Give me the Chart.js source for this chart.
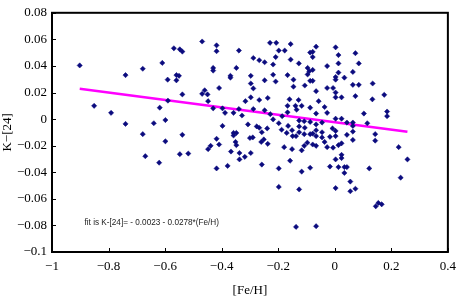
<!DOCTYPE html>
<html>
<head>
<meta charset="utf-8">
<script src="https://cdn.jsdelivr.net/npm/chart.js@4/dist/chart.umd.min.js"></script>
<style>
  html, body { margin: 0; padding: 0; background: #fff; }
  canvas { display: block; }
</style>
</head>
<body>
<canvas id="fehChart" width="463" height="300"></canvas>
<script>
// [Fe/H] of each star (x)
const fehValues = [
  -0.902, -0.740, -0.679, -0.610, -0.591,
  -0.569, -0.548, -0.539, -0.469, -0.418, -0.418, -0.339, -0.288, -0.267, -0.248,
  -0.218, -0.229, -0.207, -0.198, -0.177, -0.156, -0.209, -0.156, -0.127, -0.430,
  -0.430, -0.348, -0.560, -0.551, -0.560, -0.369, -0.369, -0.297, -0.218, -0.167,
  -0.146, -0.248, -0.209, -0.297, -0.288, -0.146, -0.409, -0.460, -0.469, -0.450, -0.539,
  -0.066, -0.087, -0.078, -0.078, 0.003, 0.013, 0.073, 0.085, 0.013, -0.027,
  -0.096, -0.090, -0.078, -0.096, -0.087, -0.078, -0.106, 0.003, 0.003, 0.034,
  0.013, 0.064, 0.064, 0.085, 0.134, -0.066, -0.027, -0.006, 0.003,
  0.003, 0.024, 0.073, 0.175, 0.133, -0.117, -0.087, -0.057, -0.036, -0.027,
  -0.066, 0.103, 0.185, 0.185, -0.126, -0.108, -0.087, -0.045, 0.003, 0.024,
  0.043, 0.064, 0.064, 0.115, -0.066, -0.126, -0.106, -0.066, -0.045, -0.008,
  0.003, 0.064, -0.126, -0.108, -0.087, -0.078, -0.066, -0.045, -0.017, 0.003,
  0.043, 0.143, 0.143, 0.064, 0.024, 0.013, -0.036, -0.097, -0.108, -0.078,
  -0.066, -0.027, -0.006, -0.117, 0.226, 0.257, 0.003, 0.024, 0.024, -0.117,
  -0.087, -0.017, 0.013, 0.034, 0.043, 0.034, 0.122,
  0.233, -0.126, 0.003, 0.055, 0.055, 0.073, 0.154, 0.166, 0.145, -0.137, -0.066,
  -0.198,
  -0.590, -0.448, -0.316, -0.297, -0.267, -0.237, -0.160, -0.128, -0.167, -0.139,
  -0.167, -0.135, -0.248, -0.288, -0.339, -0.430, -0.397, -0.388, -0.358, -0.328,
  -0.228, -0.218, -0.186, -0.198, -0.599, -0.397, -0.307, -0.276, -0.267, -0.239,
  -0.258, -0.188, -0.165, -0.170, -0.151, -0.149, -0.137, -0.358, -0.348, -0.358,
  -0.539, -0.599, -0.418, -0.300, -0.290, -0.260, -0.251, -0.237, -0.351, -0.348,
  -0.439, -0.448, -0.409, -0.367, -0.337, -0.297, -0.318, -0.337, -0.548, -0.518,
  -0.179, -0.151, -0.258, -0.198, -0.158, -0.418, -0.379,
  -0.851, -0.791, -0.740, -0.679, -0.640, -0.619, -0.670, -0.621
];

// K-[24] colour of each star (y)
const kValues = [
  0.0404, 0.0331, 0.0379, 0.0423, 0.0297,
  0.0533, 0.0525, 0.0508, 0.0584, 0.0555, 0.0511, 0.0516, 0.0460, 0.0443, 0.0428,
  0.0411, 0.0574, 0.0574, 0.0516, 0.0516, 0.0565, 0.0467, 0.0448, 0.0419, 0.0385,
  0.0365, 0.0385, 0.0331, 0.0326, 0.0292, 0.0326, 0.0312, 0.0326, 0.0334, 0.0331,
  0.0297, 0.0292, 0.0283, 0.0268, 0.0231, 0.0244, 0.0234, 0.0217, 0.0190, 0.0186, 0.0186,
  0.0545, 0.0501, 0.0506, 0.0467, 0.0540, 0.0482, 0.0496, 0.0419, 0.0419, 0.0399,
  0.0385, 0.0360, 0.0370, 0.0336, 0.0288, 0.0288, 0.0253, 0.0317, 0.0297, 0.0312,
  0.0350, 0.0355, 0.0258, 0.0258, 0.0268, 0.0210, 0.0234, 0.0234, 0.0200,
  0.0164, 0.0164, 0.0173, 0.0183, 0.0149, 0.0100, 0.0086, 0.0135, 0.0091, 0.0047,
  0.0042, 0.0042, 0.0057, 0.0022, -0.0011, -0.0016, -0.0021, -0.0026, 0.0003, 0.0003,
  -0.0026, -0.0026, -0.0051, -0.0031, -0.0040, -0.0055, -0.0065, -0.0084, -0.0099, -0.0070,
  -0.0089, -0.0094, -0.0099, -0.0113, -0.0113, -0.0109, -0.0128, -0.0138, -0.0133, -0.0128,
  -0.0118, -0.0113, -0.0162, -0.0157, -0.0182, -0.0196, -0.0172, -0.0177, -0.0201, -0.0191,
  -0.0201, -0.0211, -0.0215, -0.0235, -0.0211, -0.0303, -0.0303, -0.0269, -0.0293, -0.0395,
  -0.0366, -0.0357, -0.0361, -0.0361, -0.0361, -0.0405, -0.0371,
  -0.0441, -0.0529, -0.0519, -0.0470, -0.0543, -0.0524, -0.0631, -0.0641, -0.0656, -0.0811, -0.0806,
  -0.0510,
  0.0139, 0.0135, 0.0135, 0.0164, 0.0144, 0.0159, 0.0149, 0.0144, 0.0100, 0.0100,
  0.0051, 0.0071, 0.0066, 0.0076, 0.0076, 0.0081, 0.0081, 0.0047, 0.0047, 0.0027,
  0.0037, -0.0002, 0.0022, -0.0031, -0.0007, -0.0051, -0.0040, -0.0055, -0.0065, -0.0070,
  -0.0099, -0.0080, -0.0051, -0.0104, -0.0084, -0.0128, -0.0128, -0.0104, -0.0104, -0.0123,
  -0.0118, -0.0167, -0.0148, -0.0142, -0.0138, -0.0172, -0.0153, -0.0186, -0.0172, -0.0196,
  -0.0201, -0.0226, -0.0191, -0.0244, -0.0255, -0.0255, -0.0284, -0.0303, -0.0264, -0.0259,
  -0.0211, -0.0226, -0.0342, -0.0371, -0.0313, -0.0371, -0.0352,
  0.0100, 0.0047, -0.0036, -0.0113, -0.0031, 0.0086, -0.0279, -0.0328
];

const xTickValues = [-1, -0.8, -0.6, -0.4, -0.2, 0, 0.2, 0.4];
const yTickValues = [0.08, 0.06, 0.04, 0.02, 0, -0.02, -0.04, -0.06, -0.08, -0.1];

// linear fit shown in the figure
const fitIntercept = -0.0023;
const fitSlope = -0.0278;
const fitLabel = "fit is K-[24]= - 0.0023 - 0.0278*(Fe/H)";

const serif = '"Liberation Serif", "DejaVu Serif", serif';

const points = fehValues.map((x, i) => ({ x: x, y: kValues[i] }));
const xMin = Math.min(...fehValues);
const xMax = Math.max(...fehValues);
const fitLine = [
  { x: xMin, y: fitIntercept + fitSlope * xMin },
  { x: xMax, y: fitIntercept + fitSlope * xMax },
];

function fmt(v) {
  return String(Math.round(v * 100) / 100).replace("-", "\u2212");
}

// frame, inner ticks and the fit note
const framePlugin = {
  id: "frame",
  afterDraw(chart) {
    const { ctx, chartArea: a, scales } = chart;
    ctx.save();
    ctx.strokeStyle = "#000";
    ctx.lineWidth = 1;
    ctx.beginPath();
    xTickValues.forEach((v) => {
      const px = Math.round(scales.x.getPixelForValue(v)) + 0.5;
      ctx.moveTo(px, a.bottom);
      ctx.lineTo(px, a.bottom - 4);
    });
    yTickValues.forEach((v) => {
      const py = Math.round(scales.y.getPixelForValue(v)) + 0.5;
      ctx.moveTo(a.left, py);
      ctx.lineTo(a.left + 4, py);
    });
    ctx.stroke();

    ctx.lineWidth = 2;
    ctx.strokeRect(a.left, a.top, a.right - a.left, a.bottom - a.top);

    ctx.font = '8.2px "Liberation Sans", Arial, sans-serif';
    ctx.fillStyle = "#222";
    ctx.textBaseline = "middle";
    ctx.textAlign = "left";
    ctx.fillText(fitLabel, scales.x.getPixelForValue(-0.885), scales.y.getPixelForValue(-0.078));
    ctx.restore();
  },
};

new Chart(document.getElementById("fehChart"), {
  type: "scatter",
  data: {
    datasets: [
      {
        label: "stars",
        data: points,
        order: 1,
        pointStyle: "rectRot",
        pointRadius: 2.6,
        pointBackgroundColor: "#0b0b7e",
        pointBorderColor: "#0b0b7e",
        pointBorderWidth: 0.5,
      },
      {
        type: "line",
        label: "fit",
        data: fitLine,
        order: 2,
        showLine: true,
        borderColor: "#ff00ff",
        borderWidth: 2.5,
        pointRadius: 0,
        fill: false,
      },
    ],
  },
  options: {
    responsive: false,
    animation: false,
    layout: { padding: { top: 5, right: 9, left: 0, bottom: 0 } },
    plugins: {
      legend: { display: false },
      tooltip: { enabled: false },
    },
    scales: {
      x: {
        type: "linear",
        min: -1,
        max: 0.4,
        afterBuildTicks: (scale) => {
          scale.ticks = xTickValues.map((v) => ({ value: v }));
        },
        afterFit: (scale) => {
          scale.height = 48;
        },
        grid: { display: false, drawTicks: false },
        border: { display: false },
        ticks: {
          color: "#000",
          padding: 7,
          maxRotation: 0,
          font: { family: serif, size: 13 },
          callback: (v) => fmt(v),
        },
        title: {
          display: true,
          text: "[Fe/H]",
          color: "#000",
          padding: { top: 0, bottom: 2 },
          font: { family: serif, size: 13 },
        },
      },
      y: {
        type: "linear",
        min: -0.1,
        max: 0.08,
        afterBuildTicks: (scale) => {
          scale.ticks = yTickValues.map((v) => ({ value: v }));
        },
        afterFit: (scale) => {
          scale.width = 52;
        },
        grid: { display: false, drawTicks: false },
        border: { display: false },
        ticks: {
          color: "#000",
          padding: 5,
          font: { family: serif, size: 13 },
          callback: (v) => fmt(v),
        },
        title: {
          display: true,
          text: "K\u2212[24]",
          color: "#000",
          padding: 0,
          font: { family: serif, size: 13 },
        },
      },
    },
  },
  plugins: [framePlugin],
});
</script>
</body>
</html>
